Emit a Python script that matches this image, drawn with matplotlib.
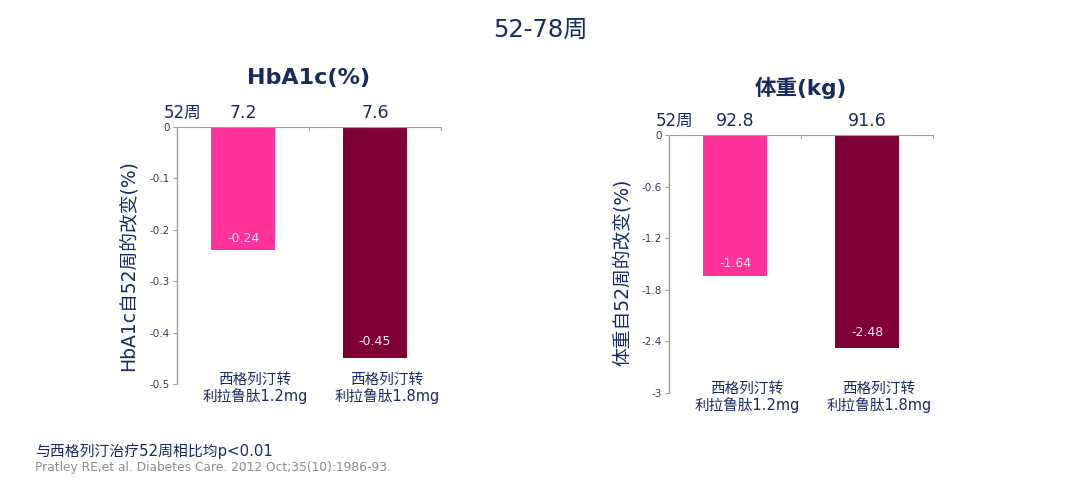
import matplotlib.pyplot as plt

plt.rcParams['font.family'] = ['DejaVu Sans', 'Noto Sans CJK SC']

# data
categories = ['西格列汀转\n利拉鲁肽1.2mg', '西格列汀转\n利拉鲁肽1.8mg']
hba1c_change = [-0.24, -0.45]
hba1c_base = ['7.2', '7.6']
weight_change = [-1.64, -2.48]
weight_base = ['92.8', '91.6']
hba1c_ticks = [0, -0.1, -0.2, -0.3, -0.4, -0.5]
weight_ticks = [0, -0.6, -1.2, -1.8, -2.4, -3]

bar_colors = ['#FF3399', '#800036']
navy = '#1B2A5E'
tick_gray = '#A0A0A0'


def draw_panel(ax, values, base, ticks, title, title_size, title_pad,
               ylabel, ylabel_pos, tick_fmt):
    x = range(len(values))
    ax.bar(x, values, width=0.49, color=bar_colors, zorder=2)
    ax.set_xlim(-0.5, len(values) - 0.5)
    ax.set_ylim(ticks[-1], 0)
    ax.set_yticks(ticks)
    ax.set_yticklabels([tick_fmt(t) for t in ticks], fontsize=7.5, color='#3A3A5A')
    ax.set_xticks([])

    for s in ['right', 'bottom']:
        ax.spines[s].set_visible(False)
    ax.spines['left'].set_color(tick_gray)
    ax.spines['top'].set_color(tick_gray)
    ax.spines['top'].set_linewidth(0.8)
    ax.spines['left'].set_linewidth(1.0)
    ax.tick_params(axis='y', length=3, color=tick_gray, pad=2)

    # small ticks on top spine at category boundaries
    for b in [0.5, 1.5]:
        ax.plot([b, b], [0, ticks[-1] * 0.012], color=tick_gray, lw=0.8,
                clip_on=False, zorder=3)

    # value labels inside bars
    for i, v in enumerate(values):
        ax.text(i, v * 0.955, f'{v:.2f}', ha='center', va='bottom',
                color='#FFE6F0', fontsize=9)

    # baseline labels above
    xt = ax.get_xaxis_transform()
    ax.text(-0.46, 1.018, '52周', transform=xt,
            ha='center', va='bottom', fontsize=12, color=navy)
    for i, b in enumerate(base):
        ax.text(i, 1.018, b, transform=xt,
                ha='center', va='bottom', fontsize=12.5, color=navy)

    # category labels at the bottom
    for i, c in enumerate(categories):
        ax.text(i + 0.09, -0.015, c, transform=xt,
                ha='center', va='center', fontsize=10.5, color=navy,
                linespacing=1.1)

    ax.set_title(title, fontsize=title_size, fontweight='bold', color=navy,
                 pad=title_pad)
    ax.text(ylabel_pos[0], ylabel_pos[1], ylabel, transform=ax.transAxes,
            rotation=90, ha='center', va='center', fontsize=13.5, color=navy)


fig = plt.figure(figsize=(10.8, 4.82), dpi=100)

ax1 = fig.add_axes([177 / 1080, 1 - 384 / 482, 264 / 1080, 257 / 482])
ax2 = fig.add_axes([669 / 1080, 1 - 393 / 482, 264 / 1080, 258 / 482])

draw_panel(ax1, hba1c_change, hba1c_base, hba1c_ticks, 'HbA1c(%)', 16, 31,
           'HbA1c自52周的改变(%)', (-0.186, 0.459),
           lambda t: '0' if t == 0 else f'{t:.1f}')
draw_panel(ax2, weight_change, weight_base, weight_ticks, '体重(kg)', 15.5, 29,
           '体重自52周的改变(%)', (-0.178, 0.469),
           lambda t: '0' if t == 0 else f'{t:g}')

fig.text(0.5, 1 - 30 / 482, '52-78周', ha='center', va='center',
         fontsize=17.5, color=navy)
fig.text(35 / 1080, 1 - 451 / 482, '与西格列汀治疗52周相比均p<0.01',
         ha='left', va='center', fontsize=10.7, color=navy)
fig.text(35 / 1080, 1 - 468 / 482,
         'Pratley RE,et al. Diabetes Care. 2012 Oct;35(10):1986-93.',
         ha='left', va='center', fontsize=8.8, color='#8C8C8C')

fig.savefig('out.png', dpi=100, facecolor='white')
